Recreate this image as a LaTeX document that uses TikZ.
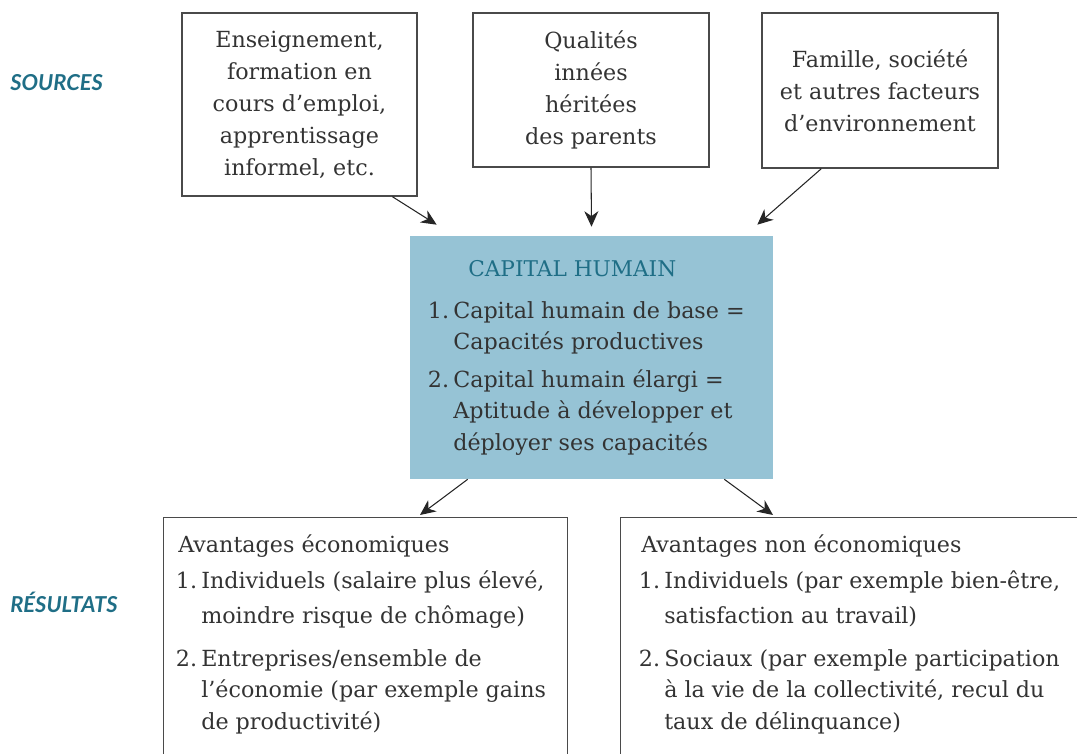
\documentclass[tikz,border=0pt]{standalone}
\usepackage{fontspec}
\setmainfont{DejaVu Serif}
\newfontfamily\tagfont{Lato}
\usetikzlibrary{arrows.meta, calc}

\definecolor{capblue}{HTML}{96C3D5}
\definecolor{tealink}{HTML}{1F6E86}
\definecolor{inkgray}{HTML}{333333}
\definecolor{framegray}{HTML}{4A4A4A}

% number of a list entry, right aligned in a fixed slot
\newcommand{\numlab}[1]{\makebox[0.5cm][r]{#1\kern3pt}}

\begin{document}
\begin{tikzpicture}[
		x=0.025cm, y=-0.025cm,
		font=\fontsize{15.8}{22.7}\selectfont, text=inkgray,
		% Box styles
		srcbox/.style={draw=framegray, line width=0.9pt, align=center, inner sep=0pt},
		gainbox/.style={draw=framegray, line width=0.9pt, inner sep=0pt, anchor=north west, minimum height=7cm},
		capbox/.style={fill=capblue, inner sep=0pt, minimum width=9.075cm, minimum height=6.075cm},
		% Text styles
		rowtag/.style={font=\tagfont\fontsize{15.6}{18}\selectfont\bfseries\itshape, text=tealink, anchor=west, inner sep=0pt},
		entry/.style={anchor=base west, inner sep=0pt},
		flow/.style={-{Stealth[length=11pt, width=10pt, inset=3.5pt]}, line width=0.75pt, draw=black!85}
		]
		
		\useasboundingbox (0,0) rectangle (1077,754);
		\clip (0,0) rectangle (1077,754);
		
		% --- TOP ROW: SOURCES ---
		\node[rowtag] (tagSrc) at (10,83) {SOURCES};
		
		\node[srcbox, minimum width=5.875cm, minimum height=4.575cm] (srcA) at (299.5,104.5)
			{Enseignement,\\formation en\\cours d’emploi,\\apprentissage\\informel, etc.};
		\node[srcbox, minimum width=5.9cm, minimum height=3.85cm] (srcB) at (591,90)
			{Qualités\\innées\\héritées\\des parents};
		\node[srcbox, minimum width=5.9cm, minimum height=3.875cm] (srcC) at (880,90.5)
			{Famille, société\\et autres facteurs\\d’environnement};
		
		% --- MIDDLE: CAPITAL HUMAIN ---
		\node[capbox] (capital) at (591.5,357.5) {};
		\node[entry, font=\fontsize{15.4}{18}\selectfont, text=tealink] (capTitle) at (468,276) {CAPITAL HUMAIN};
		\node[entry] (capOne) at (433,318) {\begin{tabular}[t]{@{}l@{}l@{}}
				\numlab{1.} & Capital humain de base =\\
				& Capacités productives
			\end{tabular}};
		\node[entry] (capTwo) at (433,387) {\begin{tabular}[t]{@{}l@{}l@{}}
				\numlab{2.} & Capital humain élargi =\\
				& Aptitude à développer et\\
				& déployer ses capacités
			\end{tabular}};
		
		% --- BOTTOM ROW: RESULTATS ---
		\node[rowtag] (tagRes) at (10,602) {RÉSULTATS};
		
		% economic gains
		\node[gainbox, minimum width=10.1cm] (gainEco) at (163,517) {};
		\node[entry] (ecoTitle) at (178,552) {Avantages économiques};
		\node[entry] (ecoOne) at (181,588) {\begin{tabular}[t]{@{}l@{}l@{}}
				\numlab{1.} & Individuels (salaire plus élevé,\\[2.5pt]
				& moindre risque de chômage)
			\end{tabular}};
		\node[entry] (ecoTwo) at (181,666) {\begin{tabular}[t]{@{}l@{}l@{}}
				\numlab{2.} & Entreprises/ensemble de\\
				& l’économie (par exemple gains\\
				& de productivité)
			\end{tabular}};
		
		% non economic gains
		\node[gainbox, minimum width=12cm] (gainSoc) at (620,517) {};
		\node[entry] (socTitle) at (641,552) {Avantages non économiques};
		\node[entry] (socOne) at (644,588) {\begin{tabular}[t]{@{}l@{}l@{}}
				\numlab{1.} & Individuels (par exemple bien-être,\\[2.5pt]
				& satisfaction au travail)
			\end{tabular}};
		\node[entry] (socTwo) at (644,666) {\begin{tabular}[t]{@{}l@{}l@{}}
				\numlab{2.} & Sociaux (par exemple participation\\
				& à la vie de la collectivité, recul du\\
				& taux de délinquance)
			\end{tabular}};
		
		% Connections
		\draw[flow] ($(srcA.south west)+(211,0)$) -- ($(capital.north west)+(27,-11)$);
		\draw[flow] (srcB.south) -- ($(capital.north)+(0,-9)$);
		\draw[flow] ($(srcC.south west)+(60,0)$) -- ($(capital.north east)+(-16,-11)$);
		\draw[flow] ($(capital.south west)+(58,0)$) -- ($(gainEco.north west)+(257,-2)$);
		\draw[flow] ($(capital.south east)+(-49,0)$) -- ($(gainSoc.north west)+(153,-2)$);
		
	\end{tikzpicture}
\end{document}
